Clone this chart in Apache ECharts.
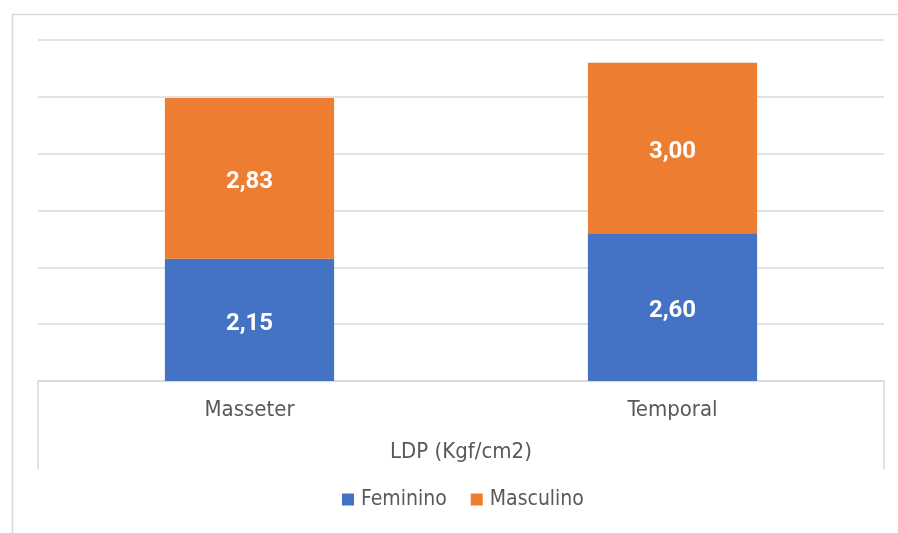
<!DOCTYPE html>
<html>
<head>
<meta charset="utf-8">
<script src="https://cdn.jsdelivr.net/npm/echarts@6/dist/echarts.min.js"></script>
<style>
  html, body { margin: 0; padding: 0; background: #ffffff; }
  #chart { width: 898px; height: 533px; }
</style>
</head>
<body>
<div id="chart"></div>
<script>
// LDP by muscle, stacked by sex
const categories = ['Masseter', 'Temporal'];
const groupLabel = ['LDP (Kgf/cm2)'];
const feminino = [2.15, 2.60];
const masculino = [2.83, 3.00];

const TEXT = '#595959';
const LINE = '#d9d9d9';
const NARROW = "'Liberation Sans Narrow', 'DejaVu Sans Condensed', 'Liberation Sans', sans-serif";

const fmt = p => p.value.toFixed(2).replace('.', ',');

const barLabel = {
  show: true,
  position: 'inside',
  offset: [0, 4],
  color: '#ffffff',
  fontFamily: 'Roboto, sans-serif',
  fontWeight: 'bold',
  fontSize: 24,
  formatter: fmt
};

const chart = echarts.init(document.getElementById('chart'), null, { renderer: 'canvas' });

chart.setOption({
  animation: false,
  backgroundColor: '#ffffff',
  graphic: [{
    type: 'rect',
    left: 10,
    top: 12,
    shape: { width: 900, height: 540 },
    style: { fill: 'none', stroke: LINE, lineWidth: 1.5 },
    silent: true
  }],
  grid: { left: 38, right: 14, top: 40, bottom: 152 },
  legend: {
    bottom: 18,
    left: 337,
    icon: 'rect',
    itemWidth: 12,
    itemHeight: 12,
    itemGap: 24,
    textStyle: { color: TEXT, fontSize: 21, fontFamily: NARROW, padding: [0, 0, 0, 2] },
    data: ['Feminino', 'Masculino']
  },
  xAxis: [{
    type: 'category',
    data: categories,
    axisLine: { show: true, lineStyle: { color: LINE, width: 1.5 } },
    axisTick: { show: false },
    axisLabel: { color: TEXT, fontSize: 22, fontFamily: NARROW, margin: 18 }
  }, {
    type: 'category',
    data: groupLabel,
    position: 'bottom',
    offset: 88,
    axisLine: { show: false },
    axisTick: { show: true, inside: true, length: 88, lineStyle: { color: LINE, width: 1.5 } },
    axisLabel: { inside: true, color: TEXT, fontSize: 22, fontFamily: NARROW, margin: 6 },
    splitLine: { show: false }
  }],
  yAxis: {
    type: 'value',
    min: 0,
    max: 6,
    interval: 1,
    axisLine: { show: false },
    axisTick: { show: false },
    axisLabel: { show: false },
    splitLine: { lineStyle: { color: LINE, width: 1.5 } }
  },
  series: [{
    name: 'Feminino',
    type: 'bar',
    stack: 'ldp',
    barWidth: '40%',
    data: feminino,
    itemStyle: { color: '#4472C4' },
    label: barLabel
  }, {
    name: 'Masculino',
    type: 'bar',
    stack: 'ldp',
    barWidth: '40%',
    data: masculino,
    itemStyle: { color: '#ED7D31' },
    label: barLabel
  }]
});
</script>
</body>
</html>
